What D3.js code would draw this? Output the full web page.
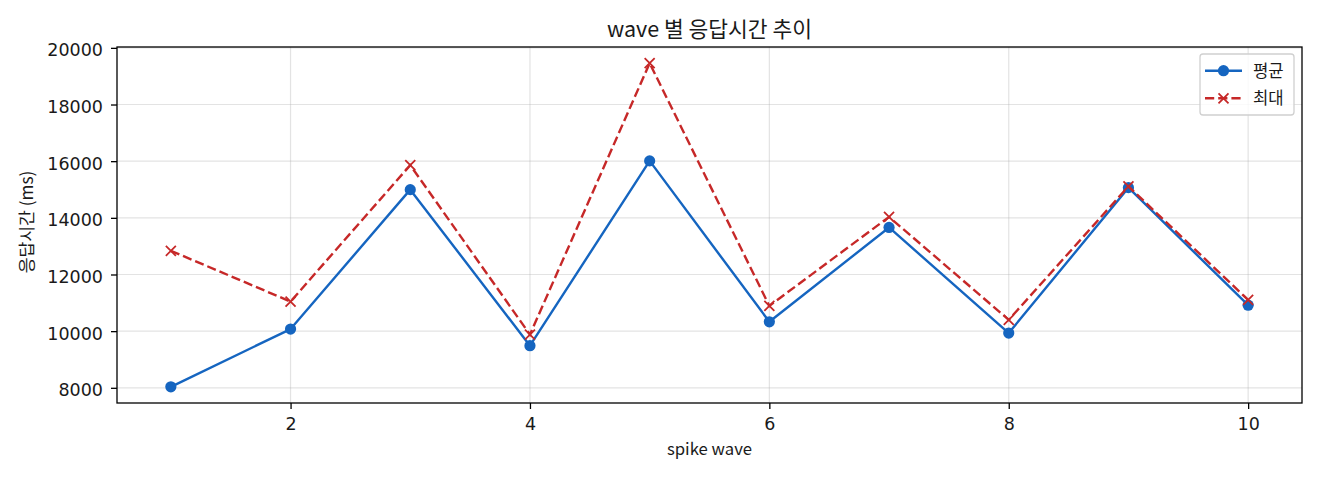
<!DOCTYPE html>
<html><head><meta charset="utf-8">
<script src="https://cdn.jsdelivr.net/npm/d3@7"></script>
<style>body{margin:0;background:#fff}svg{display:block}text{font-family:"Noto Sans CJK KR","Noto Sans",sans-serif;fill:#1a1a1a}</style>
</head><body>
<script>
const waves = [1,2,3,4,5,6,7,8,9,10];
const avgValues = [8035,10074,14995,9487,16010,10330,13660,9933,15065,10917];
const maxValues = [12837,11044,15860,9880,19459,10893,14032,10400,15111,11104];
const xTicks = [2,4,6,8,10];
const yTicks = [8000,10000,12000,14000,16000,18000,20000];
const seriesNames = ["평균","최대"];
const titleText = "wave 별 응답시간 추이";
const xLabel = "spike wave";
const yLabel = "응답시간 (ms)";

const W=1320,H=480;
const m={l:117,r:1302,t:47,b:403};
const svg=d3.select("body").append("svg").attr("width",W).attr("height",H);

const xmin=d3.min(waves),xmax=d3.max(waves),xr=xmax-xmin;
const allY=avgValues.concat(maxValues);
const ymin=d3.min(allY),ymax=d3.max(allY),yr=ymax-ymin;
const x=d3.scaleLinear().domain([xmin-0.05*xr,xmax+0.05*xr]).range([m.l,m.r]);
const y=d3.scaleLinear().domain([ymin-0.05*yr,ymax+0.05*yr]).range([m.b,m.t]);

// grid
const g=svg.append("g");
g.selectAll(".gx").data(xTicks).enter().append("line")
 .attr("x1",d=>x(d)).attr("x2",d=>x(d)).attr("y1",m.t).attr("y2",m.b)
 .attr("stroke","#b0b0b0").attr("stroke-opacity",0.35).attr("stroke-width",1.2);
g.selectAll(".gy").data(yTicks).enter().append("line")
 .attr("y1",d=>y(d)).attr("y2",d=>y(d)).attr("x1",m.l).attr("x2",m.r)
 .attr("stroke","#b0b0b0").attr("stroke-opacity",0.35).attr("stroke-width",1.2);

// axes
const tickFont='"DejaVu Sans",sans-serif';
const xa=svg.append("g").attr("transform",`translate(0,${m.b})`)
 .call(d3.axisBottom(x).tickValues(xTicks).tickSize(6).tickFormat(d3.format("d")));
const ya=svg.append("g").attr("transform",`translate(${m.l},0)`)
 .call(d3.axisLeft(y).tickValues(yTicks).tickSize(6).tickFormat(d3.format("d")));
[xa,ya].forEach(a=>{a.select(".domain").remove();a.selectAll("line").attr("stroke","#000").attr("stroke-width",1.3);
 a.selectAll("text").attr("font-size",17.5).attr("fill","#2a2a2a").style("font-family",tickFont);});
xa.selectAll("text").attr("y",27).attr("dy",0);
ya.selectAll("text").attr("x",-14).attr("dy",8);

const blue="#1565c0",red="#c62828";
const line=d3.line().x((d,i)=>x(waves[i])).y(d=>y(d));
svg.append("path").datum(avgValues).attr("d",line).attr("fill","none").attr("stroke",blue).attr("stroke-width",2.4).attr("stroke-linejoin","round");
svg.selectAll(".dot").data(avgValues).enter().append("circle")
 .attr("cx",(d,i)=>x(waves[i])).attr("cy",d=>y(d)).attr("r",5.6).attr("fill",blue);
svg.append("path").datum(maxValues).attr("d",line).attr("fill","none").attr("stroke",red).attr("stroke-width",2.4).attr("stroke-dasharray","9.2,4");
const cs=5;
svg.selectAll(".xm").data(maxValues).enter().append("path")
 .attr("d",(d,i)=>{const cx=x(waves[i]),cy=y(d);return `M${cx-cs},${cy-cs}L${cx+cs},${cy+cs}M${cx-cs},${cy+cs}L${cx+cs},${cy-cs}`;})
 .attr("stroke",red).attr("stroke-width",1.8).attr("fill","none");

// frame
svg.append("rect").attr("x",m.l).attr("y",m.t).attr("width",m.r-m.l).attr("height",m.b-m.t)
 .attr("fill","none").attr("stroke","#000").attr("stroke-width",1.3);

// title & labels
svg.append("text").attr("x",(m.l+m.r)/2).attr("y",36.5).attr("text-anchor","middle").attr("font-size",21.5).text(titleText);
svg.append("text").attr("x",(m.l+m.r)/2).attr("y",455).attr("text-anchor","middle").attr("font-size",16.7).text(xLabel);
svg.append("text").attr("transform",`translate(33,222) rotate(-90)`).attr("text-anchor","middle").attr("font-size",17.2).text(yLabel);

// legend
const lg=svg.append("g");
lg.append("rect").attr("x",1200).attr("y",54).attr("width",94).attr("height",61).attr("rx",3)
 .attr("fill","#fff").attr("fill-opacity",0.8).attr("stroke","#d0d0d0").attr("stroke-width",1.3);
const ly=[70.7,98.3];
lg.append("line").attr("x1",1205).attr("x2",1242).attr("y1",ly[0]).attr("y2",ly[0]).attr("stroke",blue).attr("stroke-width",2.4);
lg.append("circle").attr("cx",1223.5).attr("cy",ly[0]).attr("r",5.6).attr("fill",blue);
lg.append("line").attr("x1",1205).attr("x2",1242).attr("y1",ly[1]).attr("y2",ly[1]).attr("stroke",red).attr("stroke-width",2.4).attr("stroke-dasharray","9.2,4");
lg.append("path").attr("d",`M${1223.5-cs},${ly[1]-cs}L${1223.5+cs},${ly[1]+cs}M${1223.5-cs},${ly[1]+cs}L${1223.5+cs},${ly[1]-cs}`).attr("stroke",red).attr("stroke-width",1.8);
seriesNames.forEach((n,i)=>lg.append("text").attr("x",1253).attr("y",ly[i]+6).attr("font-size",16.7).text(n));
</script>
</body></html>
